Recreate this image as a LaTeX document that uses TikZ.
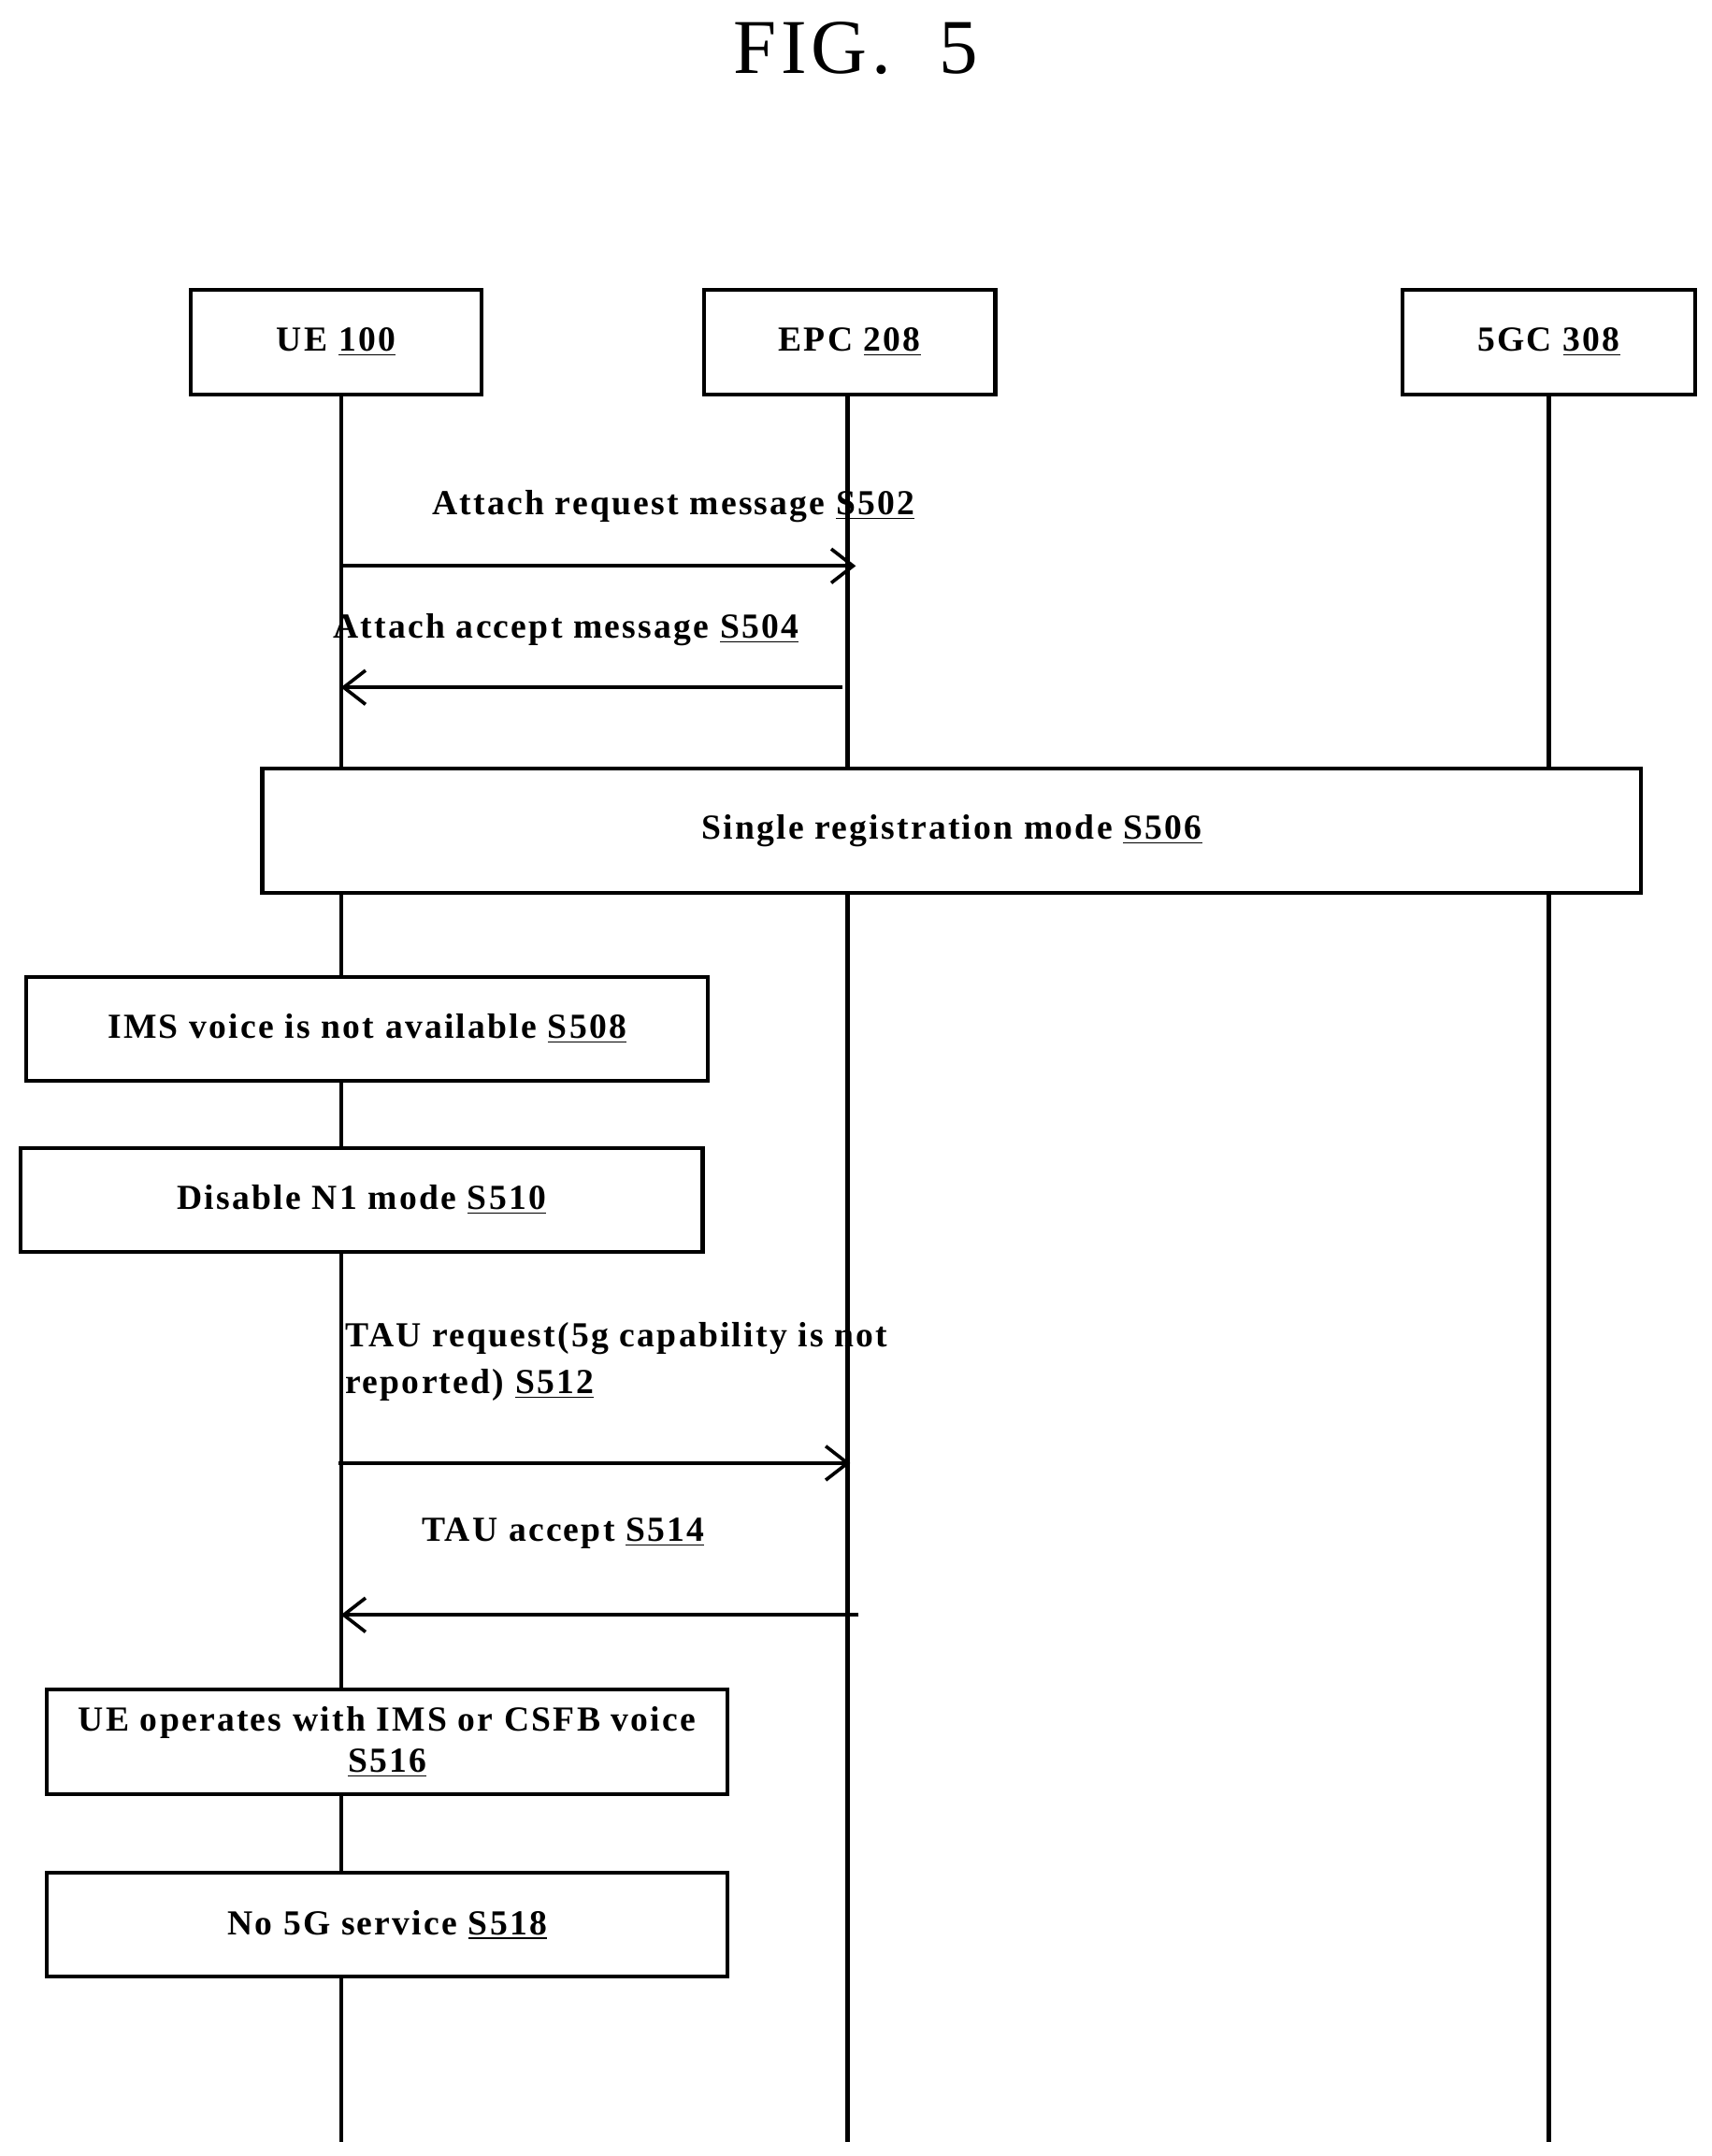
\documentclass[tikz,border=0pt]{standalone}
\usepackage{fontspec}
\setmainfont{Liberation Serif}[LetterSpace=6]
\usetikzlibrary{arrows.meta}
\begin{document}
\begin{tikzpicture}[x=0.02cm,y=-0.02cm,
  box/.style={draw,line width=1.6pt,inner sep=0pt,font=\bfseries\fontsize{14.5}{17}\selectfont},
  life/.style={line width=1.6pt},
  msg/.style={line width=1.4pt,-{Straight Barb[length=9pt,width=14pt,line width=1.4pt]}},
  lab/.style={font=\bfseries\fontsize{14.5}{17}\selectfont,inner sep=0pt}]
\useasboundingbox (0,0) rectangle (1240,1562);
\node[font=\fontsize{32}{36}\selectfont] (title) at (620,35) {FIG.~~5};
\node[box,minimum width=211*0.02cm,minimum height=76*0.02cm] (ue) at (243.5,248) {UE \underline{100}};
\node[box,minimum width=211*0.02cm,minimum height=76*0.02cm] (epc) at (615.5,248) {EPC \underline{208}};
\node[box,minimum width=212*0.02cm,minimum height=76*0.02cm] (gc) at (1122,248) {5GC \underline{308}};
\coordinate (ua) at (247,286); \coordinate (ub) at (247,1552);
\coordinate (ea) at (614,286); \coordinate (eb) at (614,1552);
\coordinate (ga) at (1122,286); \coordinate (gb) at (1122,1552);
\draw[life] (ua)--(ub); \draw[life] (ea)--(eb); \draw[life] (ga)--(gb);
\coordinate (u1) at (247,410); \coordinate (e1) at (620,410);
\draw[msg] (u1)--(e1);
\node[lab] (l1) at (488,367) {Attach request message \underline{S502}};
\coordinate (u2) at (247,498); \coordinate (e2) at (610,498);
\draw[msg] (e2)--(u2);
\node[lab] (l2) at (410,456) {Attach accept message \underline{S504}};
\node[box,fill=white,minimum width=999*0.02cm,minimum height=90*0.02cm] (s506) at (689.5,602) {Single registration mode \underline{S506}};
\node[box,fill=white,minimum width=494*0.02cm,minimum height=75*0.02cm] (s508) at (266,745.5) {IMS voice is not available \underline{S508}};
\node[box,fill=white,minimum width=494*0.02cm,minimum height=75*0.02cm] (s510) at (262,869.5) {Disable N1 mode \underline{S510}};
\node[lab,anchor=north west,align=left] (l3) at (250,958) {TAU request(5g capability is not\\[2pt]reported) \underline{S512}};
\coordinate (u3) at (245,1060); \coordinate (e3) at (616,1060);
\draw[msg] (u3)--(e3);
\node[lab] (l4) at (408,1111) {TAU accept \underline{S514}};
\coordinate (u4) at (247,1170); \coordinate (e4) at (622,1170);
\draw[msg] (e4)--(u4);
\node[box,fill=white,minimum width=493*0.02cm,minimum height=76*0.02cm,align=center] (s516) at (280.5,1262) {UE operates with IMS or CSFB voice\\\underline{S516}};
\node[box,fill=white,minimum width=493*0.02cm,minimum height=75*0.02cm] (s518) at (280.5,1394.5) {No 5G service \underline{S518}};
\end{tikzpicture}
\end{document}
